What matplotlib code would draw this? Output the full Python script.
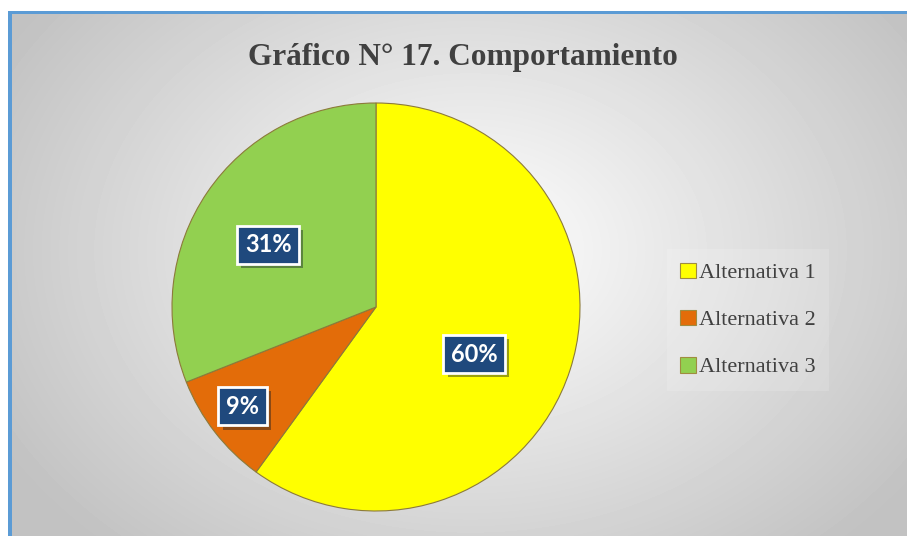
import numpy as np
import matplotlib.pyplot as plt
import matplotlib.patheffects as pe
from matplotlib.patches import Rectangle

# --- Data ---
categories = ["Alternativa 1", "Alternativa 2", "Alternativa 3"]
shares = [60, 9, 31]
labels = ["60%", "9%", "31%"]
colors = ["#FFFF00", "#E36C09", "#92D050"]
label_radius = [0.53, 0.81, 0.615]   # distance from centre for each label
label_turn = [-6.6, -1.7, 3.5]       # small angular nudge (deg) for each label

W, H = 907, 536
fig = plt.figure(figsize=(W / 100, H / 100), dpi=100)

# --- Background: white margin, radial grey gradient, blue edges ---
bg = fig.add_axes([0, 0, 1, 1])
bg.set_xlim(0, W)
bg.set_ylim(H, 0)
bg.axis("off")
yy, xx = np.mgrid[13:H, 12:W]
d = np.sqrt(((xx - 470) / 560.0) ** 2 + ((yy - 250) / 420.0) ** 2)
shade = np.clip(1.0 - 0.25 * d, 0.76, 1.0)
bg.imshow(shade, cmap="gray", vmin=0, vmax=1, extent=(12, W, H, 13),
          aspect="auto", zorder=0)
bg.add_patch(Rectangle((8, 11), 4, H - 11, color="#5B9BD5", lw=0, zorder=1))
bg.add_patch(Rectangle((8, 11), W - 8, 2.5, color="#5B9BD5", lw=0, zorder=1))

# --- Title ---
fig.text(463 / W, 1 - 58 / H, "Gráfico N° 17. Comportamiento",
         ha="center", va="center", fontsize=22.5, fontweight="bold",
         family="Liberation Serif", color="#404040")

# --- Pie ---
cx, cy, r = 376, 307, 204
ax = fig.add_axes([(cx - r) / W, (H - cy - r) / H, 2 * r / W, 2 * r / H])
wedges, _ = ax.pie(shares, colors=colors, startangle=90, counterclock=False,
                   wedgeprops=dict(edgecolor="#8C7A3A", linewidth=0.8))
ax.set_xlim(-1, 1)
ax.set_ylim(-1, 1)
ax.set_aspect("auto")

for w, lab, rad, turn in zip(wedges, labels, label_radius, label_turn):
    ang = np.deg2rad((w.theta1 + w.theta2) / 2 + turn)
    x, y = rad * np.cos(ang), rad * np.sin(ang)
    ax.text(x, y, lab, ha="center", va="center_baseline", fontsize=17,
            fontweight="bold", family="Lato", color="white",
            bbox=dict(boxstyle="square,pad=0.32", facecolor="#1F497D",
                      edgecolor="white", linewidth=2,
                      path_effects=[pe.SimplePatchShadow(offset=(3, -3),
                                                         alpha=0.4),
                                    pe.Normal()]))

# --- Legend ---
handles = [Rectangle((0, 0), 1, 1, facecolor=c, edgecolor="#A08C40", lw=0.8)
           for c in colors]
leg = fig.legend(handles, categories, loc="center left",
                 bbox_to_anchor=(667 / W, 1 - 320 / H),
                 prop=dict(family="Liberation Serif", size=16),
                 labelcolor="#404040", frameon=True, fancybox=False,
                 handlelength=0.7, handleheight=0.7, handletextpad=0.15,
                 labelspacing=1.2, borderpad=0.6, borderaxespad=0)
leg.get_frame().set_facecolor("white")
leg.get_frame().set_alpha(0.15)
leg.get_frame().set_edgecolor("none")

fig.savefig("out.png", dpi=100)
